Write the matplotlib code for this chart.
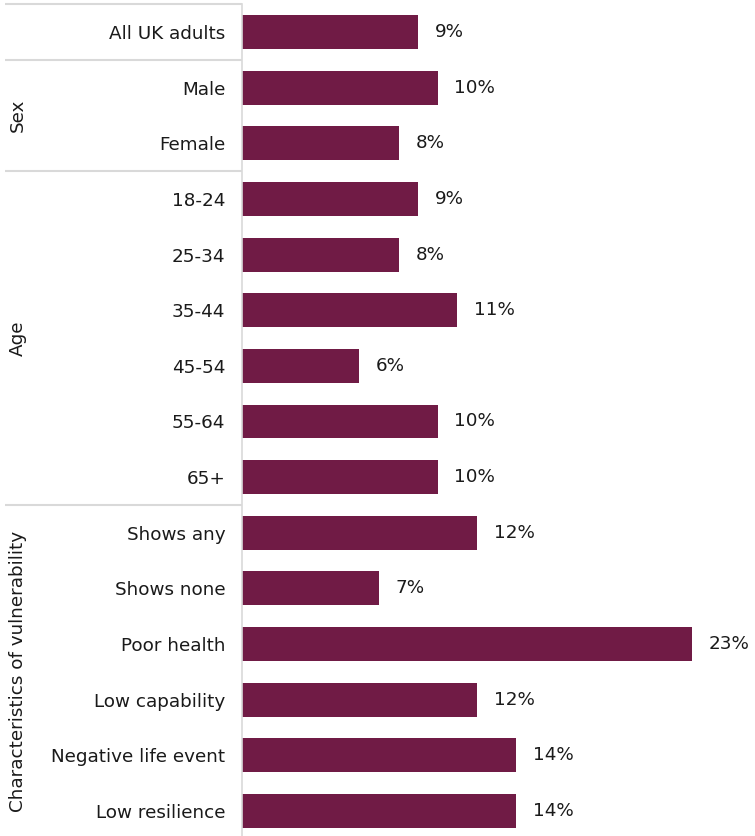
import matplotlib.pyplot as plt

# categories, top to bottom
labels = ['All UK adults', 'Male', 'Female', '18-24', '25-34', '35-44', '45-54',
          '55-64', '65+', 'Shows any', 'Shows none', 'Poor health', 'Low capability',
          'Negative life event', 'Low resilience']
values = [9, 10, 8, 9, 8, 11, 6, 10, 10, 12, 7, 23, 12, 14, 14]

# groups: (name, first row, last row)
groups = [('', 0, 0), ('Sex', 1, 2), ('Age', 3, 8),
          ('Characteristics of vulnerability', 9, 14)]

bar_color = '#701b45'
text_color = '#1a1a1a'
line_color = '#d9d9d9'
fs = 13.2

fig = plt.figure(figsize=(7.55, 8.36), dpi=100)
ax = fig.add_axes([242 / 755, 0, (755 - 242) / 755, 832 / 836])

y = list(range(len(labels)))
ax.barh(y, values, height=0.61, color=bar_color)
for yi, v in zip(y, values):
    ax.text(v + 0.85, yi, f'{v}%', va='center', ha='left', fontsize=fs, color=text_color)

ax.set_xlim(0, 26.2)
ax.set_ylim(14.45, -0.503)
ax.set_xticks([])
ax.set_yticks(y)
ax.set_yticklabels(labels, fontsize=fs, color=text_color)
ax.tick_params(axis='y', length=0, pad=12)
for s in ['top', 'right', 'bottom']:
    ax.spines[s].set_visible(False)
ax.spines['left'].set_color(line_color)
ax.spines['left'].set_linewidth(1.2)

# group separators and group names in the label column
x_left = (5 - 242) / (755 - 242) * 26.2
for name, first, last in groups:
    ax.plot([x_left, 0], [first - 0.5, first - 0.5], color=line_color, lw=1.5,
            clip_on=False, solid_capstyle='butt')
    if name:
        fig.text(18 / 755, 1 - (32 + 55.64 * (first + last) / 2) / 836, name,
                 rotation=90, ha='center', va='center', fontsize=fs, color=text_color)

fig.savefig('out.png', dpi=100)
